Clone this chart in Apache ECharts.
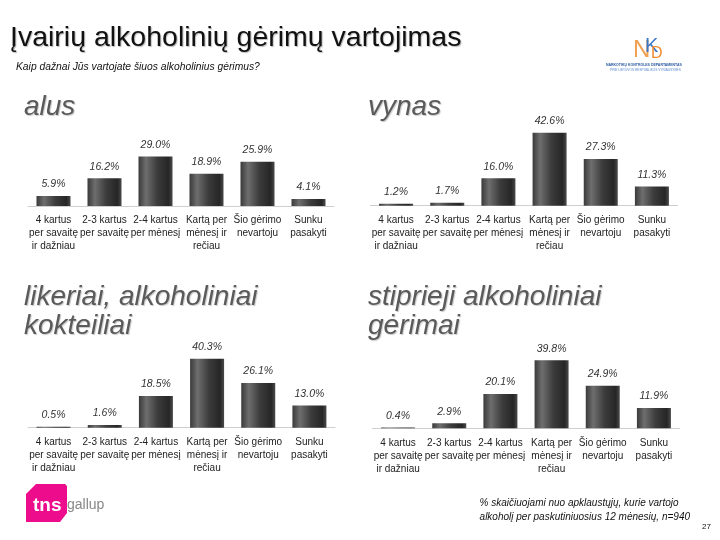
<!DOCTYPE html>
<html><head><meta charset="utf-8">
<script src="https://cdn.jsdelivr.net/npm/echarts@6/dist/echarts.min.js"></script>
<style>html,body{margin:0;padding:0;background:#fff}#c{width:720px;height:540px}</style>
</head><body><div id="c"></div>
<script>
const categories = ['4 kartus\nper savaitę\nir dažniau','2-3 kartus\nper savaitę','2-4 kartus\nper mėnesį','Kartą per\nmėnesį ir\nrečiau','Šio gėrimo\nnevartoju','Sunku\npasakyti'];
const alus = [5.9, 16.2, 29.0, 18.9, 25.9, 4.1];
const vynas = [1.2, 1.7, 16.0, 42.6, 27.3, 11.3];
const likeriai = [0.5, 1.6, 18.5, 40.3, 26.1, 13.0];
const stiprieji = [0.4, 2.9, 20.1, 39.8, 24.9, 11.9];
const panelTitles = ['alus', 'vynas', 'likeriai, alkoholiniai\nkokteiliai', 'stiprieji alkoholiniai\ngėrimai'];
const seriesData = [alus, vynas, likeriai, stiprieji];

const FONT = '"Liberation Sans", Arial, sans-serif';
const grids = [
  {left: 28, top: 120.5, width: 306, height: 85.5},
  {left: 370.5, top: 120.2, width: 307, height: 85.5},
  {left: 28, top: 342.2, width: 307, height: 85.5},
  {left: 372.5, top: 342.8, width: 307, height: 85.5}
];
const barColor = {type:'linear', x:0, y:0, x2:1, y2:0, colorStops:[
  {offset:0, color:'#3a3a3a'},{offset:0.22, color:'#6e6e6e'},{offset:0.55, color:'#3c3c3c'},
  {offset:0.88, color:'#262626'},{offset:1, color:'#4a4a4a'}]};
const panelStyle = {fontSize:28, lineHeight:29, fontStyle:'italic', fontFamily:FONT, fill:'#5a5a5a',
  textShadowColor:'#c8c8c8', textShadowOffsetX:1, textShadowOffsetY:1, textShadowBlur:1};

const option = {
  animation: false,
  grid: grids,
  xAxis: grids.map((g,i)=>({gridIndex:i, type:'category', data:categories,
    axisLine:{lineStyle:{color:'#cfcfcf', width:1}}, axisTick:{show:false},
    axisLabel:{interval:0, fontSize:10, color:'#222', fontFamily:FONT, lineHeight:13, margin:8}})),
  yAxis: grids.map((g,i)=>({gridIndex:i, type:'value', min:0, max:50, show:false, splitLine:{show:false}})),
  series: seriesData.map((d,i)=>({type:'bar', xAxisIndex:i, yAxisIndex:i, data:d, barWidth:34,
    itemStyle:{color:barColor},
    label:{show:true, position:'top', distance:6, fontSize:10.5, fontStyle:'italic', color:'#333', fontFamily:FONT,
      formatter:p=>p.value.toFixed(1)+'%'}})),
  graphic: [
    {type:'text', left:10, top:24, style:{text:'Įvairių alkoholinių gėrimų vartojimas', fontSize:28.5, fontFamily:FONT, fill:'#111',
      textShadowColor:'#bbb', textShadowOffsetX:1, textShadowOffsetY:1, textShadowBlur:1}},
    {type:'text', left:16, top:62, style:{text:'Kaip dažnai Jūs vartojate šiuos alkoholinius gėrimus?', fontSize:10.3, fontStyle:'italic', fontFamily:FONT, fill:'#111'}},
    {type:'text', left:24, top:93, style:Object.assign({text:panelTitles[0]}, panelStyle)},
    {type:'text', left:368, top:93, style:Object.assign({text:panelTitles[1]}, panelStyle)},
    {type:'text', left:24, top:283, style:Object.assign({text:panelTitles[2]}, panelStyle)},
    {type:'text', left:368, top:283, style:Object.assign({text:panelTitles[3]}, panelStyle)},
    // NKD logo
    {type:'text', left:633, top:38, style:{text:'N', fontSize:24, fontFamily:FONT, fill:'#f0a050'}},
    {type:'text', left:645, top:36, style:{text:'K', fontSize:20, fontFamily:FONT, fill:'#3c78c8'}},
    {type:'text', left:651, top:46, style:{text:'D', fontSize:16, fontFamily:FONT, fill:'#f08a30'}},
    {type:'text', left:606, top:63, style:{text:'NARKOTIKŲ KONTROLĖS DEPARTAMENTAS', fontSize:3.5, fontWeight:'bold', fontFamily:FONT, fill:'#2b5aa0'}},
    {type:'text', left:610, top:69, style:{text:'PRIE LIETUVOS RESPUBLIKOS VYRIAUSYBĖS', fontSize:3.2, fontFamily:FONT, fill:'#5a8ad0'}},
    // tns gallup logo
    {type:'polygon', shape:{points:[[36,484],[65,484],[67,486],[67,513],[60,522],[26,522],[26,494]]}, style:{fill:'#ec0c8c'}},
    {type:'text', left:33, top:496, style:{text:'tns', fontSize:19, fontWeight:'bold', fontFamily:FONT, fill:'#fff'}},
    {type:'text', left:67, top:498, style:{text:'gallup', fontSize:14, fontFamily:FONT, fill:'#888'}},
    // footnote
    {type:'text', right:30, top:496, style:{text:'% skaičiuojami nuo apklaustųjų, kurie vartojo\nalkoholį per paskutiniuosius 12 mėnesių, n=940', fontSize:10, lineHeight:14, align:'right', fontStyle:'italic', fontFamily:FONT, fill:'#111'}},
    {type:'text', right:9, top:523, style:{text:'27', fontSize:8, fontFamily:FONT, fill:'#111'}}
  ]
};
echarts.init(document.getElementById('c')).setOption(option);
</script></body></html>
